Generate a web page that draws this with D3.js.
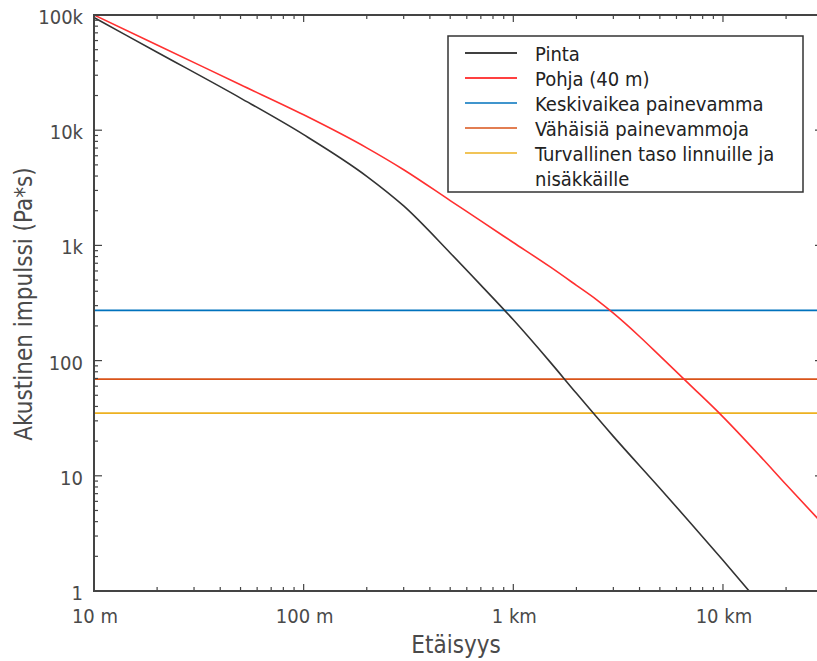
<!DOCTYPE html>
<html>
<head>
<meta charset="utf-8">
<script src="https://cdn.jsdelivr.net/npm/d3@7"></script>
<style>
  body { margin: 0; background: #fff; }
  text { font-family: "DejaVu Sans Condensed", "DejaVu Sans", sans-serif; font-stretch: condensed; fill: #4a4a4a; }
</style>
</head>
<body>
<div id="chart"></div>
<script>
// distance (m) vs acoustic impulse (Pa*s)
const pintaDist = [10, 20, 50, 100, 200, 300, 500, 700, 1000, 1500, 2000, 3000, 5000, 7000, 10000, 14000];
const pintaImpulse = [95000, 47500, 19000, 9150, 3980, 2200, 860, 452, 226, 97, 52, 22, 7.8, 3.9, 1.85, 0.9];

const pohjaDist = [10, 20, 50, 100, 200, 300, 500, 700, 1000, 1500, 2000, 2500, 3000, 4000, 5000, 7000, 10000, 15000, 20000, 30000];
const pohjaImpulse = [100000, 55000, 24800, 13600, 7030, 4540, 2450, 1630, 1060, 650, 450, 337, 258, 162, 110, 61, 32.5, 14.9, 8.4, 3.8];

const thresholdNames = ["Keskivaikea painevamma", "Vähäisiä painevammoja", "Turvallinen taso linnuille ja nisäkkäille"];
const thresholdValues = [273, 69, 35];
const thresholdColors = ["#0072bd", "#d95319", "#edb120"];

const xTickValues = [10, 100, 1000, 10000];
const xTickLabels = ["10 m", "100 m", "1 km", "10 km"];
const yTickValues = [1, 10, 100, 1000, 10000, 100000];
const yTickLabels = ["1", "10", "100", "1k", "10k", "100k"];

const width = 817;
const height = 661;
const margin = { top: 15, right: -6, bottom: 70, left: 94 };

const svg = d3
  .select("#chart")
  .append("svg")
  .attr("width", width)
  .attr("height", height);

const x = d3
  .scaleLog()
  .domain([10, 30000])
  .range([margin.left, width - margin.right]);

const y = d3
  .scaleLog()
  .domain([1, 100000])
  .range([height - margin.bottom, margin.top]);

// minor ticks 1..9 per decade
const minorTicks = (lo, hi) => {
  const out = [];
  for (let p = lo; p < hi; p *= 10) {
    for (let k = 1; k < 10; k++) out.push(p * k);
  }
  out.push(hi);
  return out;
};
const xMinor = minorTicks(10, 10000).concat([20000, 30000]);
const yMinor = minorTicks(1, 100000);
const isMajor = v => Math.abs(Math.log10(v) - Math.round(Math.log10(v))) < 1e-9;

svg.append("defs")
  .append("clipPath")
  .attr("id", "plot-clip")
  .append("rect")
  .attr("x", x.range()[0])
  .attr("y", y.range()[1])
  .attr("width", x.range()[1] - x.range()[0])
  .attr("height", y.range()[0] - y.range()[1]);

// threshold lines
const plot = svg.append("g").attr("clip-path", "url(#plot-clip)");
plot
  .selectAll(".threshold")
  .data(thresholdValues)
  .join("line")
  .attr("class", "threshold")
  .attr("x1", x.range()[0])
  .attr("x2", x.range()[1])
  .attr("y1", d => y(d))
  .attr("y2", d => y(d))
  .attr("stroke", (d, i) => thresholdColors[i])
  .attr("stroke-width", 1.6);

const line = d3
  .line()
  .x(d => x(d[0]))
  .y(d => y(d[1]))
  .curve(d3.curveMonotoneX);

plot
  .append("path")
  .datum(pohjaDist.map((d, i) => [d, pohjaImpulse[i]]))
  .attr("fill", "none")
  .attr("stroke", "#ff3030")
  .attr("stroke-width", 1.6)
  .attr("d", line);

plot
  .append("path")
  .datum(pintaDist.map((d, i) => [d, pintaImpulse[i]]))
  .attr("fill", "none")
  .attr("stroke", "#333")
  .attr("stroke-width", 1.6)
  .attr("d", line);

// axes box with inward ticks
const axisColor = "#444";
const frame = svg.append("g");
const [x0, x1] = x.range();
const [yb, yt] = y.range();

frame
  .selectAll(".xtick-b")
  .data(xMinor)
  .join("line")
  .attr("x1", d => x(d))
  .attr("x2", d => x(d))
  .attr("y1", yb)
  .attr("y2", d => yb - (isMajor(d) ? 7 : 4))
  .attr("stroke", axisColor)
  .attr("stroke-width", 1.2);

frame
  .selectAll(".xtick-t")
  .data(xMinor)
  .join("line")
  .attr("x1", d => x(d))
  .attr("x2", d => x(d))
  .attr("y1", yt)
  .attr("y2", d => yt + (isMajor(d) ? 7 : 4))
  .attr("stroke", axisColor)
  .attr("stroke-width", 1.2);

frame
  .selectAll(".ytick-l")
  .data(yMinor)
  .join("line")
  .attr("x1", x0)
  .attr("x2", d => x0 + (isMajor(d) ? 8 : 4))
  .attr("y1", d => y(d))
  .attr("y2", d => y(d))
  .attr("stroke", axisColor)
  .attr("stroke-width", 1.2);

frame
  .selectAll(".ytick-r")
  .data(yMinor)
  .join("line")
  .attr("x1", x1)
  .attr("x2", d => x1 - (isMajor(d) ? 8 : 4))
  .attr("y1", d => y(d))
  .attr("y2", d => y(d))
  .attr("stroke", axisColor)
  .attr("stroke-width", 1.2);

frame
  .append("rect")
  .attr("x", x0)
  .attr("y", yt)
  .attr("width", x1 - x0)
  .attr("height", yb - yt)
  .attr("fill", "none")
  .attr("stroke", axisColor)
  .attr("stroke-width", 2);

// tick labels
svg
  .selectAll(".xlabel")
  .data(xTickValues)
  .join("text")
  .attr("x", d => x(d) + 1)
  .attr("y", yb + 32)
  .attr("text-anchor", "middle")
  .attr("font-size", 20)
  .text((d, i) => xTickLabels[i]);

svg
  .selectAll(".ylabel")
  .data(yTickValues)
  .join("text")
  .attr("x", x0 - 11)
  .attr("y", d => y(d) + 9)
  .attr("text-anchor", "end")
  .attr("font-size", 20)
  .text((d, i) => yTickLabels[i]);

// axis titles
svg
  .append("text")
  .attr("x", 456)
  .attr("y", 653)
  .attr("text-anchor", "middle")
  .attr("font-size", 24)
  .text("Etäisyys");

svg
  .append("text")
  .attr("transform", `translate(32,304) rotate(-90)`)
  .attr("text-anchor", "middle")
  .attr("font-size", 24)
  .text("Akustinen impulssi (Pa*s)");

// legend
const legendNames = ["Pinta", "Pohja (40 m)"].concat(thresholdNames);
const legendColors = ["#000", "#ff0000"].concat(thresholdColors);
const legend = svg.append("g").attr("transform", "translate(448,36)");
legend
  .append("rect")
  .attr("width", 355)
  .attr("height", 156)
  .attr("fill", "#fff")
  .attr("stroke", "#333")
  .attr("stroke-width", 1.5);

const rows = legend
  .selectAll(".row")
  .data(legendNames)
  .join("g")
  .attr("transform", (d, i) => `translate(0,${17 + i * 25})`);

rows
  .append("line")
  .attr("x1", 17)
  .attr("x2", 69)
  .attr("stroke", (d, i) => legendColors[i])
  .attr("stroke-width", 1.5);

rows
  .append("text")
  .attr("x", 87)
  .attr("y", 8)
  .attr("font-size", 20)
  .style("fill", "#222")
  .each(function(d) {
    const t = d3.select(this);
    if (d.startsWith("Turvallinen")) {
      t.append("tspan").attr("x", 87).text("Turvallinen taso linnuille ja");
      t.append("tspan").attr("x", 87).attr("dy", 25).text("nisäkkäille");
    } else {
      t.text(d);
    }
  });
</script>
</body>
</html>
